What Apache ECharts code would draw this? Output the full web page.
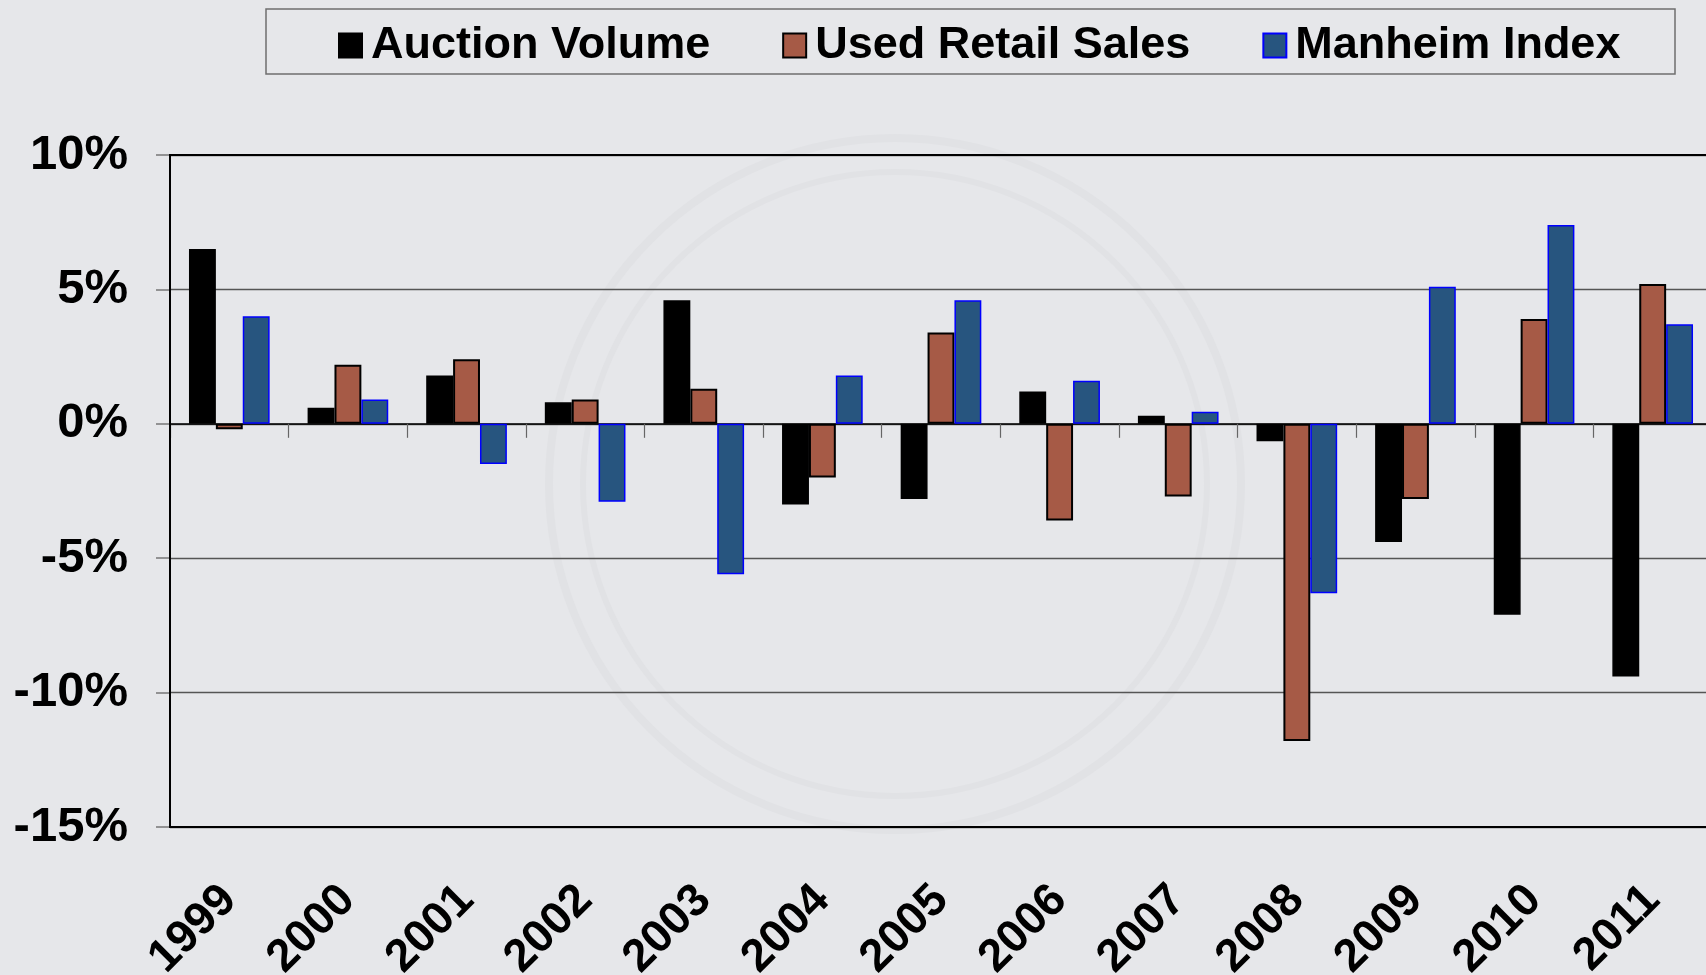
<!DOCTYPE html>
<html>
<head>
<meta charset="utf-8">
<script src="https://cdn.jsdelivr.net/npm/echarts@6/dist/echarts.min.js"></script>
<style>
  html, body { margin: 0; padding: 0; background: #e6e7ea; }
  #chart { width: 1706px; height: 975px; }
</style>
</head>
<body>
<div id="chart"></div>
<script>
const years = ['1999', '2000', '2001', '2002', '2003', '2004', '2005', '2006', '2007', '2008', '2009', '2010', '2011']

const auctionVolume = [6.5, 0.6, 1.8, 0.8, 4.6, -3.0, -2.8, 1.2, 0.3, -0.65, -4.4, -7.1, -9.4]
const usedRetailSales = [-0.2, 2.2, 2.4, 0.9, 1.3, -2.0, 3.4, -3.6, -2.7, -11.8, -2.8, 3.9, 5.2]
const manheimIndex = [4.0, 0.9, -1.5, -2.9, -5.6, 1.8, 4.6, 1.6, 0.45, -6.3, 5.1, 7.4, 3.7]

const yMin = -15
const yMax = 10
const yStep = 5

const font = '"Liberation Sans", Arial, sans-serif'

const chart = echarts.init(document.getElementById('chart'))

const option = {
  backgroundColor: '#e6e7ea',
  textStyle: { fontFamily: font },
  animation: false,
  graphic: [
    // faint watermark rings behind the plot
    {
      type: 'circle', z: -10, silent: true,
      shape: { cx: 895, cy: 484, r: 346 },
      style: { fill: 'none', stroke: '#e1e2e5', lineWidth: 8 }
    },
    {
      type: 'circle', z: -10, silent: true,
      shape: { cx: 895, cy: 484, r: 312 },
      style: { fill: 'none', stroke: '#e1e2e5', lineWidth: 6 }
    },
    // legend frame
    {
      type: 'rect', z: 1, silent: true,
      shape: { x: 266, y: 9, width: 1409, height: 65 },
      style: { fill: 'none', stroke: '#6f6f6f', lineWidth: 1.5 }
    }
  ],
  legend: {
    left: 333,
    top: 18,
    itemWidth: 23,
    itemHeight: 24,
    itemGap: 72,
    icon: 'rect',
    textStyle: {
      fontFamily: font,
      fontWeight: 'bold',
      fontSize: 45,
      color: '#000',
      padding: [0, 0, 0, 4]
    },
    data: ['Auction Volume', 'Used Retail Sales', 'Manheim Index']
  },
  grid: {
    left: 170,
    right: -6,
    top: 155,
    bottom: 148,
    outerBoundsMode: 'none',
    show: true,
    z: 5,
    borderColor: '#000',
    borderWidth: 2,
    backgroundColor: 'transparent'
  },
  xAxis: [
    {
      type: 'category',
      data: years,
      axisLine: { onZero: true, lineStyle: { color: '#000', width: 1.5 } },
      axisTick: { show: true, length: 14, inside: false, lineStyle: { color: '#666', width: 1.2 } },
      axisLabel: { show: false },
      splitLine: { show: false }
    },
    {
      type: 'category',
      data: years,
      position: 'bottom',
      axisLine: { show: false, onZero: false },
      axisTick: { show: false },
      axisLabel: {
        rotate: 45,
        margin: 66,
        fontFamily: font,
        fontWeight: 'bold',
        fontSize: 46,
        color: '#000'
      },
      splitLine: { show: false }
    }
  ],
  yAxis: {
    type: 'value',
    min: yMin,
    max: yMax,
    interval: yStep,
    axisLine: { show: true, lineStyle: { color: '#000', width: 2 } },
    axisTick: { show: true, length: 14, lineStyle: { color: '#777', width: 1.5 } },
    axisLabel: {
      margin: 42,
      fontFamily: font,
      fontWeight: 'bold',
      fontSize: 49,
      color: '#000',
      formatter: v => v + '%'
    },
    splitLine: { show: true, lineStyle: { color: '#555', width: 1.3 } }
  },
  series: [
    {
      name: 'Auction Volume',
      type: 'bar',
      xAxisIndex: 0,
      data: auctionVolume,
      barGap: '0%',
      barCategoryGap: '32%',
      itemStyle: { color: '#000', borderColor: '#000', borderWidth: 1.5 }
    },
    {
      name: 'Used Retail Sales',
      type: 'bar',
      xAxisIndex: 0,
      data: usedRetailSales,
      barGap: '0%',
      barCategoryGap: '32%',
      itemStyle: { color: '#a65a46', borderColor: '#000', borderWidth: 2 }
    },
    {
      name: 'Manheim Index',
      type: 'bar',
      xAxisIndex: 0,
      data: manheimIndex,
      barGap: '0%',
      barCategoryGap: '32%',
      itemStyle: { color: '#27557f', borderColor: '#0000ff', borderWidth: 1.5 }
    }
  ]
}

chart.setOption(option)
</script>
</body>
</html>
